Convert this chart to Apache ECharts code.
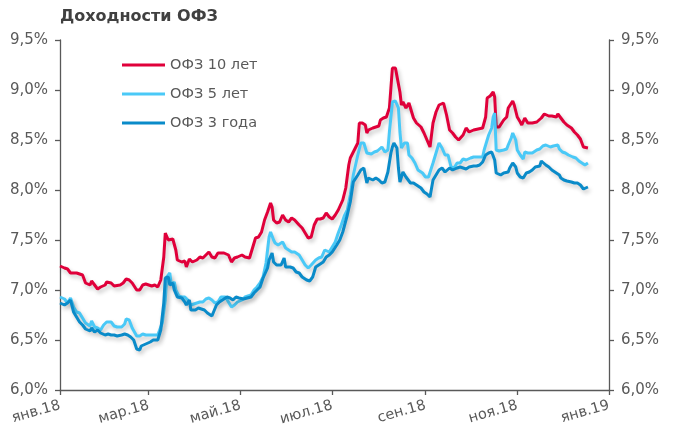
<!DOCTYPE html>
<html>
<head>
<meta charset="utf-8">
<script src="https://cdn.jsdelivr.net/npm/echarts@6/dist/echarts.min.js"></script>
<style>
html,body{margin:0;padding:0;background:#fff;}
#chart{width:685px;height:443px;}
</style>
</head>
<body>
<div id="chart"></div>
<script>
const YEAR = 2018;
const seriesNames = ['ОФЗ 10 лет', 'ОФЗ 5 лет', 'ОФЗ 3 года'];
const xTickDates = ['2018-01-01','2018-03-01','2018-05-01','2018-07-01','2018-09-01','2018-11-01','2019-01-01'];
const xTickLabels = ['янв.18','мар.18','май.18','июл.18','сен.18','ноя.18','янв.19'];
const yTicks = [6.0, 6.5, 7.0, 7.5, 8.0, 8.5, 9.0, 9.5];

// ОФЗ 10 лет
const dates10 = ['01-01','01-04','01-06','01-08','01-10','01-12','01-14','01-16','01-18','01-21','01-22','01-24','01-26','01-28','01-31',
'02-01','02-04','02-06','02-10','02-12','02-14','02-16','02-18','02-21','02-23','02-25','02-27',
'03-03','03-05','03-07','03-09','03-11','03-12','03-14','03-15','03-17','03-19','03-20','03-23','03-25','03-26','03-28','03-30',
'04-02','04-04','04-06','04-08','04-10','04-12','04-14','04-16','04-18','04-20','04-23','04-25','04-27','04-29',
'05-02','05-04','05-07','05-09','05-11','05-13','05-15','05-17','05-19','05-21','05-22','05-23','05-25','05-27','05-29','05-31',
'06-02','06-04','06-06','06-09','06-11','06-13','06-15','06-17','06-19','06-21','06-23','06-25','06-27','06-29',
'07-01','07-03','07-05','07-08','07-10','07-12','07-13','07-15','07-18','07-19','07-21','07-23','07-24','07-25','07-28','07-30',
'08-01','08-02','08-04','08-06','08-08','08-09','08-10','08-12','08-13','08-15','08-16','08-17','08-19','08-21','08-23','08-24','08-26','08-29','08-31',
'09-02','09-04','09-06','09-08','09-10','09-13','09-15','09-17','09-19','09-21','09-23','09-26','09-28','09-30',
'10-03','10-06','10-09','10-11','10-12','10-14','10-16','10-17','10-18','10-20','10-21','10-23','10-25','10-26','10-29','10-30',
'11-01','11-03','11-04','11-06','11-08','11-11','11-14','11-17','11-19','11-20','11-22','11-24','11-27','11-28','11-30',
'12-02','12-04','12-07','12-09','12-11','12-13','12-15','12-16','12-18'];
const values10 = [7.24,7.22,7.21,7.17,7.17,7.17,7.16,7.15,7.07,7.05,7.09,7.05,7.01,7.03,7.05,
7.08,7.07,7.04,7.05,7.07,7.11,7.10,7.07,7.00,7.00,7.05,7.06,
7.04,7.05,7.03,7.10,7.33,7.57,7.50,7.51,7.51,7.40,7.30,7.28,7.29,7.23,7.31,7.28,
7.30,7.33,7.32,7.35,7.38,7.33,7.32,7.37,7.37,7.37,7.35,7.28,7.32,7.33,
7.35,7.33,7.32,7.42,7.52,7.53,7.58,7.70,7.78,7.87,7.83,7.70,7.67,7.68,7.75,7.70,
7.68,7.72,7.70,7.65,7.62,7.57,7.52,7.53,7.65,7.71,7.71,7.72,7.77,7.73,
7.71,7.75,7.80,7.90,8.02,8.25,8.32,8.38,8.47,8.67,8.67,8.65,8.57,8.60,8.62,8.63,
8.64,8.70,8.72,8.73,8.82,9.02,9.22,9.22,9.20,8.98,8.85,8.88,8.82,8.87,8.77,8.72,8.67,8.63,8.57,
8.50,8.43,8.67,8.78,8.85,8.87,8.75,8.60,8.57,8.53,8.50,8.55,8.62,8.58,
8.60,8.61,8.62,8.73,8.92,8.94,8.98,8.93,8.63,8.63,8.65,8.70,8.73,8.82,8.89,8.85,
8.73,8.68,8.65,8.72,8.67,8.67,8.68,8.72,8.76,8.78,8.74,8.74,8.73,8.76,8.72,
8.68,8.65,8.62,8.58,8.55,8.51,8.43,8.41,8.42];

// ОФЗ 5 лет
const dates5 = ['01-01','01-04','01-06','01-08','01-10','01-12','01-14','01-16','01-18','01-21','01-22','01-24','01-26','01-28','01-30',
'02-01','02-04','02-06','02-08','02-11','02-13','02-14','02-16','02-18','02-21','02-23','02-25','02-27',
'03-03','03-05','03-07','03-10','03-12','03-13','03-15','03-16','03-18','03-19','03-21','03-23','03-25','03-27','03-29','03-30',
'04-02','04-04','04-06','04-08','04-10','04-12','04-14','04-16','04-18','04-21','04-23','04-25','04-27','04-29',
'05-02','05-04','05-08','05-10','05-12','05-14','05-16','05-18','05-19','05-20','05-21','05-23','05-24','05-26','05-27','05-29','05-31',
'06-02','06-04','06-06','06-09','06-11','06-13','06-15','06-17','06-20','06-22','06-24','06-26','06-29',
'07-01','07-03','07-05','07-07','07-09','07-11','07-13','07-15','07-18','07-20','07-22','07-24','07-25','07-27','07-29','07-31',
'08-03','08-05','08-07','08-08','08-10','08-12','08-14','08-15','08-16','08-18','08-20','08-21','08-23','08-25','08-27','08-30',
'09-01','09-03','09-04','09-06','09-08','09-10','09-12','09-14','09-16','09-18','09-20','09-22','09-24','09-26','09-28',
'10-01','10-03','10-07','10-09','10-10','10-12','10-13','10-15','10-16','10-17','10-18','10-20','10-23','10-25','10-26','10-28','10-29','10-31',
'11-01','11-03','11-05','11-06','11-08','11-11','11-14','11-16','11-18','11-20','11-23','11-25','11-28','11-29',
'12-01','12-03','12-05','12-08','12-10','12-12','12-14','12-16','12-18'];
const values5 = [6.93,6.91,6.87,6.92,6.83,6.78,6.77,6.72,6.67,6.64,6.69,6.63,6.62,6.60,6.65,
6.68,6.68,6.64,6.63,6.63,6.66,6.71,6.70,6.62,6.54,6.54,6.56,6.55,
6.55,6.55,6.55,6.67,6.90,7.13,7.17,7.05,7.08,7.00,6.94,6.93,6.93,6.90,6.85,6.85,
6.87,6.88,6.88,6.91,6.92,6.90,6.87,6.88,6.93,6.93,6.88,6.83,6.85,6.88,
6.90,6.93,6.95,7.00,7.03,7.07,7.13,7.27,7.40,7.53,7.58,7.50,7.47,7.45,7.43,7.48,7.42,
7.40,7.38,7.38,7.35,7.30,7.25,7.22,7.25,7.30,7.32,7.33,7.40,7.38,
7.43,7.48,7.57,7.65,7.74,7.80,7.95,8.15,8.35,8.47,8.47,8.37,8.38,8.36,8.38,8.39,
8.43,8.38,8.40,8.58,8.88,8.89,8.82,8.58,8.42,8.47,8.47,8.35,8.32,8.27,8.20,8.17,
8.13,8.13,8.12,8.27,8.37,8.47,8.42,8.35,8.35,8.23,8.22,8.27,8.27,8.31,8.30,
8.32,8.33,8.33,8.33,8.40,8.50,8.55,8.62,8.73,8.77,8.40,8.39,8.40,8.41,8.45,8.52,8.57,8.50,
8.40,8.35,8.31,8.38,8.37,8.37,8.40,8.41,8.44,8.45,8.43,8.44,8.45,8.41,
8.38,8.37,8.35,8.33,8.32,8.29,8.27,8.25,8.27];

// ОФЗ 3 года
const dates3 = ['01-01','01-04','01-06','01-08','01-10','01-12','01-14','01-16','01-18','01-21','01-22','01-24','01-26','01-28','01-31',
'02-02','02-04','02-06','02-08','02-11','02-13','02-15','02-17','02-19','02-21','02-23','02-24','02-27',
'03-02','03-04','03-07','03-09','03-11','03-12','03-14','03-15','03-17','03-18','03-20','03-23','03-25','03-26','03-28','03-29',
'04-01','04-03','04-05','04-07','04-09','04-12','04-13','04-15','04-17','04-19','04-22','04-24','04-26','04-28','04-30',
'05-03','05-04','05-08','05-10','05-12','05-14','05-16','05-19','05-20','05-22','05-23','05-25','05-26','05-28','05-30','05-31',
'06-03','06-05','06-07','06-09','06-11','06-14','06-16','06-18','06-20','06-22','06-25','06-27','06-29',
'07-01','07-04','07-06','07-08','07-11','07-13','07-15','07-18','07-20','07-22','07-24','07-25','07-28','07-30',
'08-01','08-03','08-05','08-07','08-09','08-10','08-11','08-13','08-14','08-15','08-17','08-19','08-20','08-22','08-24','08-26','08-29','08-31',
'09-02','09-04','09-06','09-08','09-10','09-12','09-14','09-15','09-17','09-19','09-22','09-24','09-26','09-28','09-30',
'10-03','10-05','10-07','10-09','10-11','10-13','10-15','10-16','10-17','10-18','10-19','10-21','10-23','10-26','10-27','10-29','10-31',
'11-01','11-03','11-05','11-07','11-09','11-11','11-13','11-16','11-17','11-18','11-20','11-22','11-24','11-27','11-29','11-30',
'12-02','12-04','12-07','12-09','12-11','12-13','12-15','12-16','12-18'];
const values3 = [6.87,6.85,6.87,6.90,6.78,6.73,6.68,6.65,6.61,6.59,6.62,6.58,6.60,6.57,6.55,
6.56,6.55,6.55,6.54,6.55,6.56,6.55,6.53,6.50,6.41,6.40,6.44,6.46,
6.48,6.50,6.50,6.60,6.87,7.12,7.13,7.05,7.07,7.00,6.93,6.92,6.88,6.85,6.90,6.80,
6.80,6.82,6.81,6.80,6.77,6.74,6.72,6.85,6.88,6.90,6.93,6.92,6.90,6.93,6.92,
6.91,6.90,6.93,6.97,7.00,7.03,7.12,7.22,7.30,7.37,7.28,7.25,7.23,7.25,7.32,7.23,
7.23,7.22,7.18,7.17,7.13,7.10,7.09,7.13,7.23,7.25,7.28,7.33,7.35,
7.38,7.45,7.50,7.58,7.75,7.88,8.08,8.15,8.20,8.22,8.07,8.12,8.10,8.12,
8.10,8.07,8.08,8.18,8.37,8.43,8.47,8.42,8.22,8.08,8.18,8.13,8.13,8.07,8.07,8.05,8.02,7.98,
7.96,7.93,8.10,8.15,8.20,8.22,8.18,8.17,8.22,8.20,8.22,8.23,8.22,8.21,8.23,
8.24,8.24,8.25,8.28,8.35,8.37,8.38,8.40,8.30,8.17,8.15,8.15,8.17,8.18,8.22,8.27,8.23,
8.17,8.13,8.12,8.17,8.18,8.20,8.23,8.24,8.29,8.27,8.25,8.23,8.20,8.17,8.15,8.12,
8.10,8.09,8.08,8.07,8.07,8.05,8.01,8.03,8.03];

const colors = ['#E0003A', '#4AC9F7', '#0A8BC9'];
const FONT = 'DejaVu Sans';
const textColor = '#595959';
const axisColor = '#595959';

function ts(md) { return Date.UTC(YEAR, parseInt(md.slice(0, 2), 10) - 1, parseInt(md.slice(3), 10)); }
function isoTs(s) { const p = s.split('-'); return Date.UTC(+p[0], +p[1] - 1, +p[2]); }
function pairs(dates, vals) { return dates.map((d, i) => [ts(d), vals[i]]); }

const tickTs = xTickDates.map(isoTs);
const fmtPct = v => v.toFixed(1).replace('.', ',') + '%';

const chart = echarts.init(document.getElementById('chart'), null, { renderer: 'canvas' });

function yAxisDef(pos) {
  return {
    type: 'value', position: pos, min: yTicks[0], max: yTicks[yTicks.length - 1], interval: 0.5,
    splitLine: { show: false },
    axisLine: { show: true, lineStyle: { color: axisColor, width: 1.3 } },
    axisTick: { show: true, length: 5, lineStyle: { color: axisColor, width: 1.3 } },
    axisLabel: { formatter: fmtPct, color: textColor, fontFamily: FONT, fontSize: 15, margin: 12 }
  };
}

const lineStyleBase = (c) => ({
  color: c, width: 3,
  shadowColor: 'rgba(0,0,0,0.22)', shadowBlur: 4, shadowOffsetX: 2, shadowOffsetY: 3
});

const option = {
  animation: false,
  backgroundColor: '#ffffff',
  title: {
    text: 'Доходности ОФЗ', left: 55, top: 4,
    textStyle: { fontFamily: FONT, fontSize: 16, fontWeight: 'bold', color: '#404040' }
  },
  legend: {
    orient: 'vertical', left: 122, top: 57, padding: 0,
    icon: 'rect', itemWidth: 43, itemHeight: 3, itemGap: 13,
    data: seriesNames,
    textStyle: { fontFamily: FONT, fontSize: 14.5, color: textColor, lineHeight: 16 }
  },
  grid: { left: 60, right: 76, top: 40, bottom: 53, containLabel: false, outerBoundsMode: 'none' },
  xAxis: {
    type: 'value', min: tickTs[0], max: tickTs[tickTs.length - 1],
    splitLine: { show: false },
    axisLine: { show: true, lineStyle: { color: axisColor, width: 1.3 } },
    axisTick: { show: true, length: 5, customValues: tickTs, lineStyle: { color: axisColor, width: 1.3 } },
    axisLabel: {
      customValues: tickTs, rotate: 16, margin: 15,
      color: textColor, fontFamily: FONT, fontSize: 14.5,
      formatter: v => { const i = tickTs.indexOf(v); return i >= 0 ? xTickLabels[i] : ''; }
    }
  },
  yAxis: [yAxisDef('left'), yAxisDef('right')],
  series: [
    { name: seriesNames[0], type: 'line', data: pairs(dates10, values10), symbol: 'none', color: colors[0], lineStyle: lineStyleBase(colors[0]) },
    { name: seriesNames[1], type: 'line', data: pairs(dates5, values5), symbol: 'none', color: colors[1], lineStyle: lineStyleBase(colors[1]) },
    { name: seriesNames[2], type: 'line', data: pairs(dates3, values3), symbol: 'none', color: colors[2], lineStyle: lineStyleBase(colors[2]) }
  ]
};
chart.setOption(option);
</script>
</body>
</html>
